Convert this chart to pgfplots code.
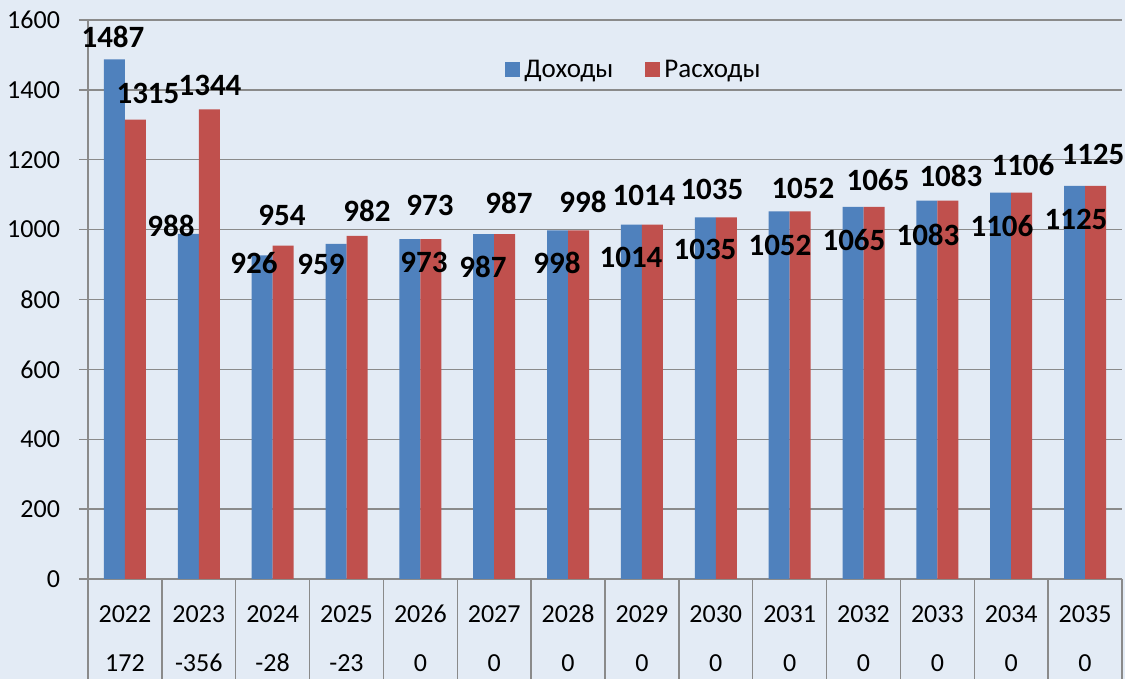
\documentclass[border=0pt]{standalone}
\usepackage{pgfplots}
\pgfplotsset{compat=1.18}
\usepackage{pgfplotstable}
\usepackage{fontspec}
\setmainfont{Carlito}
\definecolor{bgc}{HTML}{E3EBF5}
\definecolor{blu}{HTML}{4F81BD}
\definecolor{rd}{HTML}{C0504D}
\definecolor{gr}{HTML}{8A8A8A}
\newcommand{\T}{\rule{0pt}{9pt}}

\pgfplotstableread{
x y
0 1487
1 988
2 926
3 959
4 973
5 987
6 998
7 1014
8 1035
9 1052
10 1065
11 1083
12 1106
13 1125
}\inc

\pgfplotstableread{
x y
0 1315
1 1344
2 954
3 982
4 973
5 987
6 998
7 1014
8 1035
9 1052
10 1065
11 1083
12 1106
13 1125
}\exp

\pgfplotstableread{
x y lab
-0.162 1551 1487
0.312 1391 1315
0.624 1010 988
1.152 1414 1344
1.748 904 926
2.127 1042 954
2.655 899 959
3.277 1053 982
4.049 907 973
4.130 1070 973
4.848 893 987
5.200 1076 987
5.850 904 998
6.202 1079 998
6.852 919 1014
7.028 1099 1014
7.854 942 1035
7.948 1116 1035
8.869 956 1052
9.180 1119 1052
9.871 970 1065
10.196 1142 1065
10.873 985 1083
11.184 1153 1083
11.875 1010 1106
12.159 1185 1106
12.877 1030 1125
13.107 1214 1125
}\labs

\begin{document}
\begin{tikzpicture}
\fill[bgc] (-44pt,-50pt) rectangle (518.5pt,289.5pt);
\path[use as bounding box] (-44pt,-50pt) rectangle (518.5pt,289.5pt);
\begin{axis}[
  at={(0pt,0pt)}, anchor=south west,
  width=517pt, height=279.5pt, scale only axis,
  xmin=-0.5, xmax=13.5, ymin=0, ymax=1600,
  clip=false,
  axis x line*=bottom, axis y line*=left,
  axis line style={gr, line width=0.7pt},
  tick align=outside,
  major tick length=4.5pt,
  ytick={0,200,...,1600},
  ymajorgrids,
  major grid style={gr, line width=0.7pt},
  ytick style={gr, line width=0.7pt},
  /pgf/number format/assume math mode=true,
  /pgf/number format/1000 sep={},
  yticklabel style={font=\fontsize{13}{15}\selectfont, anchor=east, xshift=-6pt},
  xtick={0,...,13},
  xticklabels={{\T2022\\172},{\T2023\\-356},{\T2024\\-28},{\T2025\\-23},{\T2026\\0},{\T2027\\0},{\T2028\\0},{\T2029\\0},{\T2030\\0},{\T2031\\0},{\T2032\\0},{\T2033\\0},{\T2034\\0},{\T2035\\0}},
  xticklabel style={align=center, anchor=north, inner sep=0pt, yshift=-8pt, font=\fontsize{13}{24.5}\selectfont},
  xtick style={draw=none},
  extra x ticks={-0.5,0.5,1.5,2.5,3.5,4.5,5.5,6.5,7.5,8.5,9.5,10.5,11.5,12.5,13.5},
  extra x tick labels={},
  extra x tick style={major tick length=50pt, xtick style={draw=gr, line width=0.7pt}},
  legend image code/.code={\fill[#1] (0pt,-3.75pt) rectangle (7.5pt,3.75pt);},
  legend style={draw=none, fill=none, legend columns=2, at={(0.529,0.9106)}, anchor=center,
     font=\fontsize{13.5}{15}\selectfont,
     /tikz/every even column/.append style={column sep=14pt}},
]
\addplot[ybar, bar width=10.5pt, bar shift=-5.25pt, fill=blu, draw=none] table[x=x,y=y] {\inc};
\addlegendentry{Доходы}
\addplot[ybar, bar width=10.5pt, bar shift=5.25pt, fill=rd, draw=none] table[x=x,y=y] {\exp};
\addlegendentry{Расходы}
\addplot[draw=none, mark=none, forget plot, nodes near coords, point meta=explicit symbolic,
   nodes near coords align={center},
   every node near coord/.append style={anchor=center, inner sep=0pt, font=\bfseries\fontsize{15.5}{17}\selectfont, text=black}]
   table[x=x,y=y,meta=lab] {\labs};
\end{axis}
\end{tikzpicture}
\end{document}
